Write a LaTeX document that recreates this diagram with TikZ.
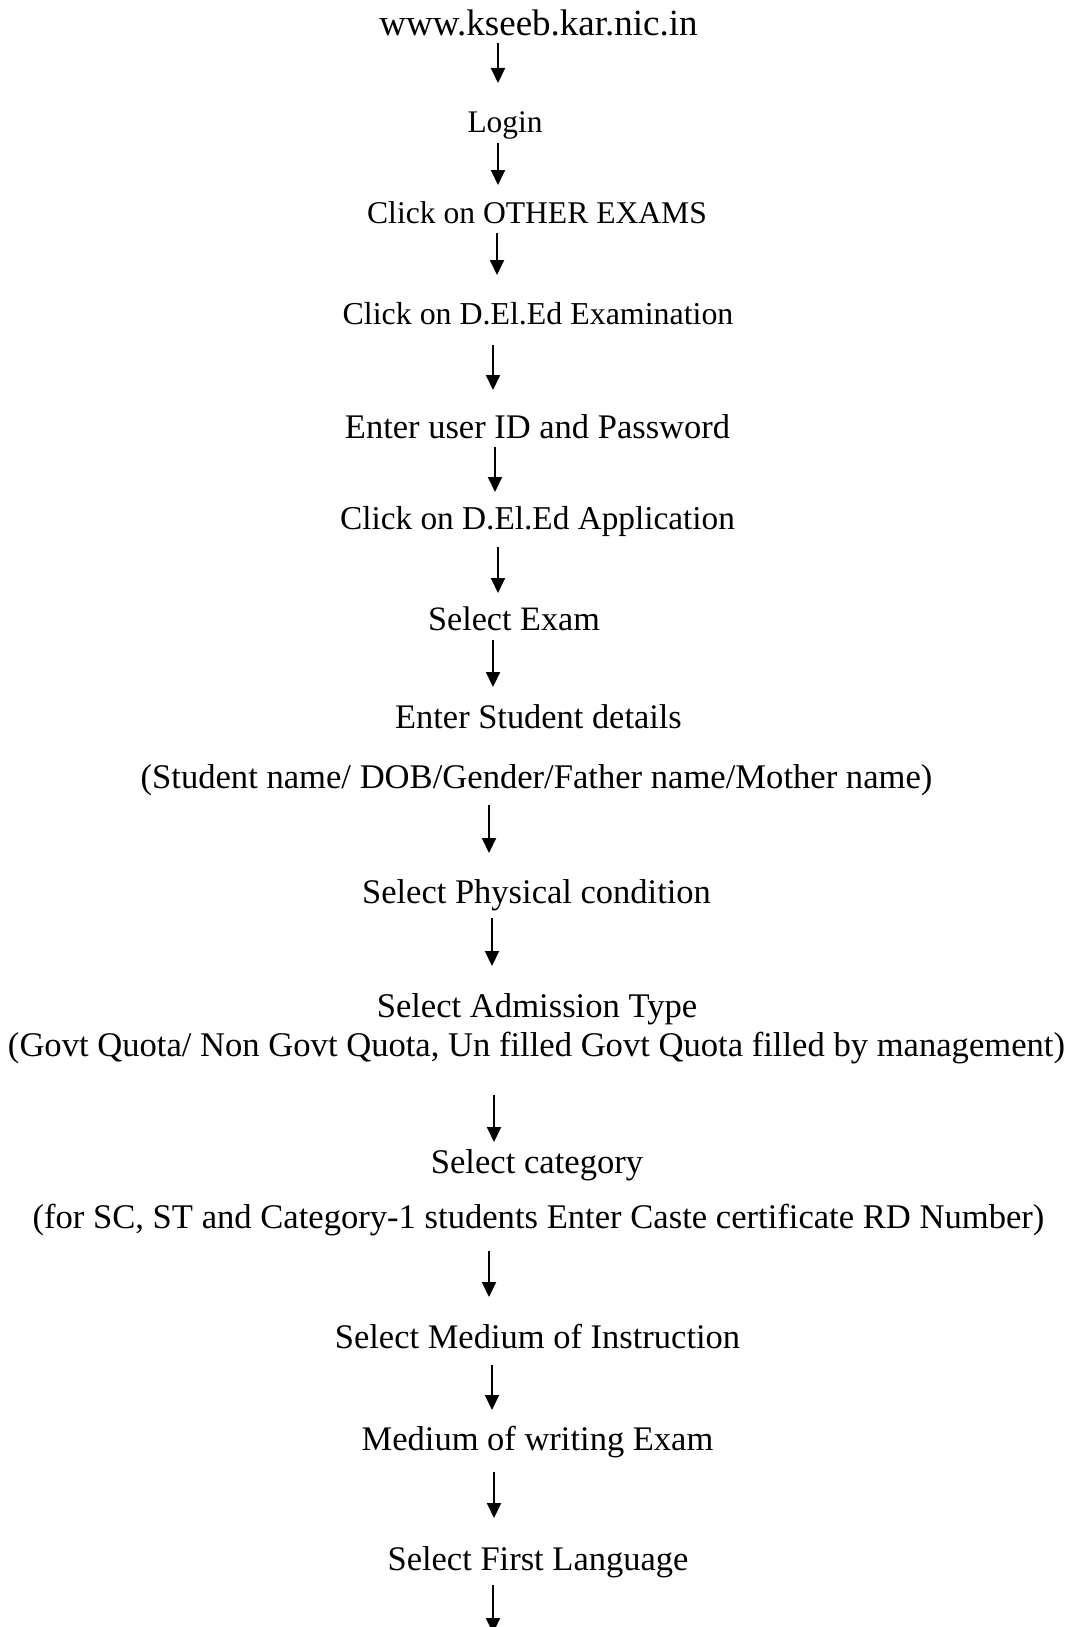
\documentclass[tikz,border=0pt]{standalone}
\usepackage{fontspec}
\setmainfont{Liberation Serif}
\usetikzlibrary{arrows.meta}
\begin{document}
\begin{tikzpicture}[x=1pt,y=-1pt,
  lbl/.style={anchor=base,inner sep=0pt,font=\fontsize{#1}{#1}\selectfont},
  arr/.style={line width=2pt,-{Triangle[width=14pt,length=15pt]}}]
\useasboundingbox (0,0) rectangle (1070,1627);
\clip (0,0) rectangle (1070,1627);
\fill[white] (0,0) rectangle (1070,1627);

\node[lbl=37]   (n1)  at (538.5,36)  {www.kseeb.kar.nic.in};
\node[lbl=31.4] (n2)  at (505,132)   {Login};
\node[lbl=31.6] (n3)  at (537,223)   {Click on OTHER EXAMS};
\node[lbl=31.9] (n4)  at (538,324)   {Click on D.El.Ed Examination};
\node[lbl=34.5] (n5)  at (537.5,438) {Enter user ID and Password};
\node[lbl=33.3] (n6)  at (537.5,529) {Click on D.El.Ed Application};
\node[lbl=34.2] (n7)  at (514,630)   {Select Exam};
\node[lbl=34.4] (n8)  at (538.5,728) {Enter Student details};
\node[lbl=34.6] (n9)  at (536.5,788) {(Student name/ DOB/Gender/Father name/Mother name)};
\node[lbl=34.5] (n10) at (536.5,903) {Select Physical condition};
\node[lbl=34.6] (n11) at (537,1017)  {Select Admission Type};
\node[lbl=34.6] (n12) at (536.5,1056) {(Govt Quota/ Non Govt Quota, Un filled Govt Quota filled by management)};
\node[lbl=34.6] (n13) at (537,1173)  {Select category};
\node[lbl=34.6] (n14) at (538.5,1228) {(for SC, ST and Category-1 students Enter Caste certificate RD Number)};
\node[lbl=34.5] (n15) at (537.5,1348) {Select Medium of Instruction};
\node[lbl=34.5] (n16) at (537.5,1450) {Medium of writing Exam};
\node[lbl=34.5] (n17) at (538,1570)  {Select First Language};

\coordinate (a1s) at (498,43);   \coordinate (a1e) at (498,83);
\coordinate (a2s) at (498,143);  \coordinate (a2e) at (498,185);
\coordinate (a3s) at (497,233);  \coordinate (a3e) at (497,275);
\coordinate (a4s) at (493,345);  \coordinate (a4e) at (493,390);
\coordinate (a5s) at (495,447);  \coordinate (a5e) at (495,492);
\coordinate (a6s) at (498,547);  \coordinate (a6e) at (498,593);
\coordinate (a7s) at (493,640);  \coordinate (a7e) at (493,687);
\coordinate (a8s) at (489,805);  \coordinate (a8e) at (489,853);
\coordinate (a9s) at (492,918);  \coordinate (a9e) at (492,966);
\coordinate (a10s) at (494,1095); \coordinate (a10e) at (494,1142);
\coordinate (a11s) at (489,1251); \coordinate (a11e) at (489,1297);
\coordinate (a12s) at (492,1365); \coordinate (a12e) at (492,1410);
\coordinate (a13s) at (494,1472); \coordinate (a13e) at (494,1518);
\coordinate (a14s) at (493,1585); \coordinate (a14e) at (493,1633);

\foreach \i in {1,...,14} {\draw[arr] (a\i s) -- (a\i e);}
\end{tikzpicture}
\end{document}
